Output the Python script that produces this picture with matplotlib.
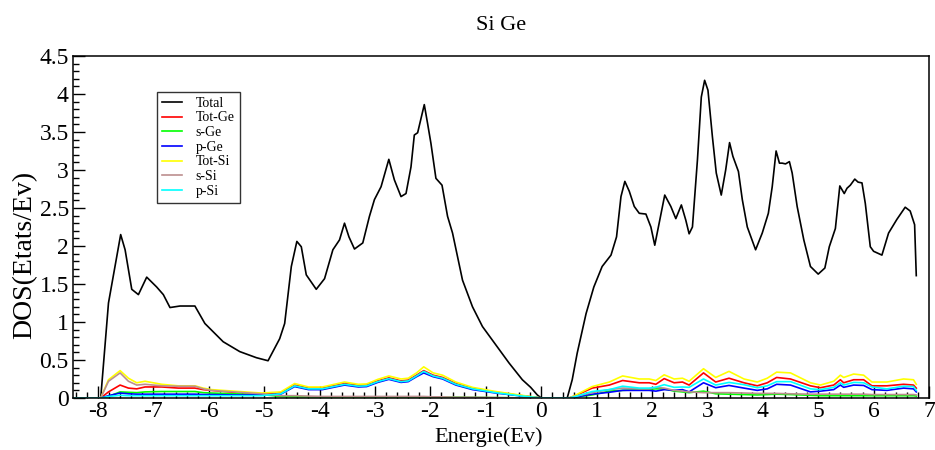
import matplotlib
matplotlib.use('Agg')
import matplotlib.pyplot as plt
from matplotlib.ticker import MultipleLocator, FormatStrFormatter

plt.rcParams['font.family'] = ['Liberation Serif', 'DejaVu Serif']

# Total DOS
e_total = [-8.45, -7.95, -7.81, -7.59, -7.51, -7.39, -7.27, -7.12, -6.94, -6.82, -6.70, -6.52,
           -6.25, -6.07, -5.74, -5.44, -5.14, -4.93, -4.72, -4.63, -4.51, -4.41, -4.33, -4.24,
           -4.06, -3.91, -3.76, -3.64, -3.55, -3.47, -3.37, -3.22, -3.10, -3.01, -2.89, -2.75,
           -2.65, -2.53, -2.44, -2.35, -2.29, -2.23, -2.11, -2.05, -1.99, -1.90, -1.79, -1.69,
           -1.60, -1.42, -1.24, -1.06, -0.82, -0.58, -0.34, -0.19, -0.07, 0.0, 0.47, 0.56,
           0.65, 0.81, 0.95, 1.10, 1.26, 1.36, 1.44, 1.51, 1.59, 1.68, 1.77, 1.89,
           1.98, 2.05, 2.14, 2.23, 2.34, 2.43, 2.53, 2.61, 2.67, 2.73, 2.82, 2.89,
           2.95, 3.01, 3.09, 3.16, 3.25, 3.33, 3.40, 3.46, 3.56, 3.63, 3.72, 3.87,
           3.99, 4.10, 4.17, 4.24, 4.30, 4.35, 4.41, 4.48, 4.53, 4.62, 4.74, 4.86,
           5.00, 5.12, 5.20, 5.31, 5.39, 5.47, 5.52, 5.58, 5.66, 5.72, 5.79, 5.85,
           5.94, 6.00, 6.15, 6.27, 6.42, 6.57, 6.66, 6.74, 6.77]
dos_total = [0.0, 0.0, 1.25, 2.15, 1.95, 1.43, 1.36, 1.59, 1.46, 1.36, 1.19, 1.21,
             1.21, 0.98, 0.74, 0.61, 0.53, 0.49, 0.78, 0.98, 1.73, 2.06, 1.99, 1.62,
             1.43, 1.57, 1.95, 2.08, 2.30, 2.12, 1.96, 2.04, 2.39, 2.61, 2.78, 3.14,
             2.87, 2.65, 2.69, 3.04, 3.46, 3.49, 3.86, 3.61, 3.35, 2.89, 2.80, 2.39,
             2.17, 1.55, 1.20, 0.94, 0.70, 0.46, 0.24, 0.14, 0.04, 0.0, 0.0, 0.24,
             0.59, 1.11, 1.46, 1.73, 1.88, 2.12, 2.65, 2.85, 2.72, 2.52, 2.43, 2.42,
             2.25, 2.01, 2.34, 2.67, 2.52, 2.36, 2.54, 2.34, 2.16, 2.25, 3.13, 3.96,
             4.18, 4.05, 3.44, 2.96, 2.67, 3.00, 3.36, 3.18, 2.98, 2.61, 2.25, 1.95,
             2.17, 2.43, 2.78, 3.25, 3.09, 3.09, 3.08, 3.11, 2.96, 2.52, 2.08, 1.73,
             1.63, 1.71, 1.99, 2.23, 2.79, 2.69, 2.76, 2.80, 2.88, 2.84, 2.83, 2.56,
             1.99, 1.93, 1.88, 2.17, 2.35, 2.51, 2.46, 2.28, 1.61]

# Partial DOS, all on the same energy grid
e_pdos = [-8.45, -7.95, -7.81, -7.6, -7.45, -7.3, -7.15, -6.85, -6.55, -6.25, -6.1,
          -5.95, -5.55, -5.05, -4.7, -4.45, -4.2, -3.95, -3.55, -3.3, -3.15,
          -2.95, -2.75, -2.53, -2.4, -2.25, -2.12, -1.95, -1.78, -1.54, -1.24,
          -0.82, -0.4, 0.0, 0.5, 0.6, 0.92, 1.23, 1.47, 1.77, 1.95,
          2.07, 2.22, 2.4, 2.55, 2.67, 2.93, 3.15, 3.39, 3.66, 3.9,
          4.08, 4.25, 4.5, 4.86, 5.04, 5.28, 5.4, 5.46, 5.64, 5.82,
          5.97, 6.24, 6.54, 6.72, 6.77]
tot_ge = [0, 0, 0.08, 0.17, 0.13, 0.12, 0.145, 0.145, 0.13, 0.13, 0.11,
          0.10, 0.075, 0.055, 0.07, 0.17, 0.13, 0.13, 0.19, 0.165, 0.17,
          0.225, 0.265, 0.225, 0.235, 0.30, 0.36, 0.30, 0.27, 0.19, 0.125,
          0.075, 0.035, 0, 0, 0.025, 0.13, 0.17, 0.23, 0.20, 0.20,
          0.18, 0.255, 0.20, 0.21, 0.17, 0.33, 0.21, 0.26, 0.20, 0.16,
          0.20, 0.27, 0.25, 0.16, 0.135, 0.17, 0.24, 0.20, 0.24, 0.24,
          0.16, 0.16, 0.18, 0.17, 0.13]
s_ge = [0, 0, 0.02, 0.08, 0.075, 0.07, 0.08, 0.085, 0.085, 0.085, 0.07,
        0.065, 0.055, 0.045, 0.02, 0.015, 0.015, 0.015, 0.015, 0.015, 0.015,
        0.015, 0.015, 0.015, 0.015, 0.015, 0.015, 0.012, 0.01, 0.01, 0.008,
        0.005, 0.002, 0, 0, 0.01, 0.04, 0.09, 0.10, 0.11, 0.115,
        0.12, 0.12, 0.09, 0.08, 0.07, 0.09, 0.055, 0.05, 0.045, 0.04,
        0.045, 0.05, 0.045, 0.035, 0.03, 0.03, 0.03, 0.03, 0.03, 0.03,
        0.03, 0.03, 0.03, 0.03, 0.025]
p_ge = [0, 0, 0.03, 0.065, 0.055, 0.05, 0.05, 0.05, 0.05, 0.05, 0.045,
        0.045, 0.04, 0.04, 0.05, 0.15, 0.11, 0.11, 0.17, 0.145, 0.15,
        0.205, 0.245, 0.205, 0.215, 0.28, 0.33, 0.28, 0.25, 0.17, 0.11,
        0.065, 0.03, 0, 0, 0.01, 0.05, 0.075, 0.10, 0.10, 0.10,
        0.09, 0.11, 0.10, 0.11, 0.08, 0.20, 0.135, 0.165, 0.13, 0.10,
        0.12, 0.18, 0.17, 0.08, 0.09, 0.11, 0.17, 0.14, 0.17, 0.165,
        0.11, 0.10, 0.13, 0.12, 0.08]
tot_si = [0, 0, 0.24, 0.36, 0.26, 0.20, 0.22, 0.18, 0.16, 0.16, 0.13,
          0.11, 0.09, 0.065, 0.08, 0.19, 0.145, 0.145, 0.21, 0.18, 0.185,
          0.245, 0.29, 0.25, 0.26, 0.33, 0.41, 0.33, 0.30, 0.21, 0.14,
          0.085, 0.04, 0, 0, 0.03, 0.15, 0.21, 0.29, 0.25, 0.25,
          0.23, 0.305, 0.25, 0.26, 0.22, 0.385, 0.27, 0.35, 0.25, 0.21,
          0.26, 0.34, 0.33, 0.20, 0.17, 0.22, 0.30, 0.27, 0.315, 0.30,
          0.21, 0.21, 0.25, 0.24, 0.18]
s_si = [0, 0, 0.22, 0.33, 0.22, 0.17, 0.18, 0.16, 0.155, 0.155, 0.12,
        0.10, 0.08, 0.055, 0.03, 0.03, 0.025, 0.02, 0.02, 0.02, 0.02,
        0.02, 0.02, 0.02, 0.02, 0.02, 0.02, 0.015, 0.015, 0.01, 0.01,
        0.005, 0.0, 0, 0, 0.02, 0.07, 0.11, 0.13, 0.12, 0.12,
        0.14, 0.13, 0.10, 0.09, 0.08, 0.07, 0.07, 0.07, 0.065, 0.06,
        0.06, 0.06, 0.055, 0.05, 0.05, 0.05, 0.05, 0.05, 0.05, 0.05,
        0.045, 0.045, 0.045, 0.045, 0.04]
p_si = [0, 0, 0.02, 0.035, 0.03, 0.03, 0.03, 0.03, 0.03, 0.03, 0.03,
        0.03, 0.03, 0.03, 0.055, 0.16, 0.12, 0.12, 0.18, 0.155, 0.16,
        0.215, 0.255, 0.215, 0.225, 0.29, 0.35, 0.29, 0.26, 0.18, 0.12,
        0.07, 0.03, 0, 0, 0.015, 0.085, 0.11, 0.155, 0.13, 0.13,
        0.14, 0.175, 0.14, 0.145, 0.14, 0.25, 0.17, 0.205, 0.175, 0.135,
        0.16, 0.215, 0.215, 0.12, 0.11, 0.14, 0.20, 0.17, 0.205, 0.20,
        0.145, 0.12, 0.155, 0.15, 0.10]

fig = plt.figure(figsize=(9.35, 4.5), dpi=100)
ax = fig.add_axes([0.0781, 0.1156, 0.9155, 0.76])

lw = 1.2
ax.plot(e_total, dos_total, color='black', lw=lw, label='Total')
ax.plot(e_pdos, tot_ge, color='#ff0000', lw=lw, label='Tot-Ge')
ax.plot(e_pdos, s_ge, color='#00ff00', lw=lw, label='s-Ge')
ax.plot(e_pdos, p_ge, color='#0000ff', lw=lw, label='p-Ge')
ax.plot(e_pdos, tot_si, color='#ffff00', lw=lw, label='Tot-Si')
ax.plot(e_pdos, s_si, color='#bc8f8f', lw=lw, label='s-Si')
ax.plot(e_pdos, p_si, color='#00ffff', lw=lw, label='p-Si')

ax.set_xlim(-8.45, 7)
ax.set_ylim(0, 4.5)

ax.xaxis.set_major_locator(MultipleLocator(1))
ax.xaxis.set_minor_locator(MultipleLocator(0.2))
ax.yaxis.set_major_locator(MultipleLocator(0.5))
ax.yaxis.set_minor_locator(MultipleLocator(0.1))
ax.xaxis.set_major_formatter(FormatStrFormatter('%g'))
ax.yaxis.set_major_formatter(FormatStrFormatter('%g'))

ax.tick_params(which='both', direction='in', top=False, right=False, labelsize=17)
ax.tick_params(which='major', length=8.5, width=1)
ax.tick_params(which='minor', length=4.3, width=1)
ax.tick_params(axis='x', pad=2)
ax.tick_params(axis='y', pad=3)
for s in ax.spines.values():
    s.set_linewidth(1.1)

ax.set_title('Si Ge', fontsize=16, pad=19)
ax.set_xlabel('Energie(Ev)', fontsize=16)
ax.xaxis.set_label_coords(0.485, -0.085)
ax.set_ylabel('DOS(Etats/Ev)', fontsize=20)
ax.yaxis.set_label_coords(-0.042, 0.418)

leg = ax.legend(loc='upper left', bbox_to_anchor=(0.098, 0.895), borderaxespad=0,
                fontsize=10, frameon=True, fancybox=False, labelspacing=0.12,
                handlelength=1.45, handletextpad=1.0, borderpad=0.35)
leg.get_frame().set_edgecolor('black')
leg.get_frame().set_linewidth(1.0)

fig.savefig('out.png', dpi=100)
